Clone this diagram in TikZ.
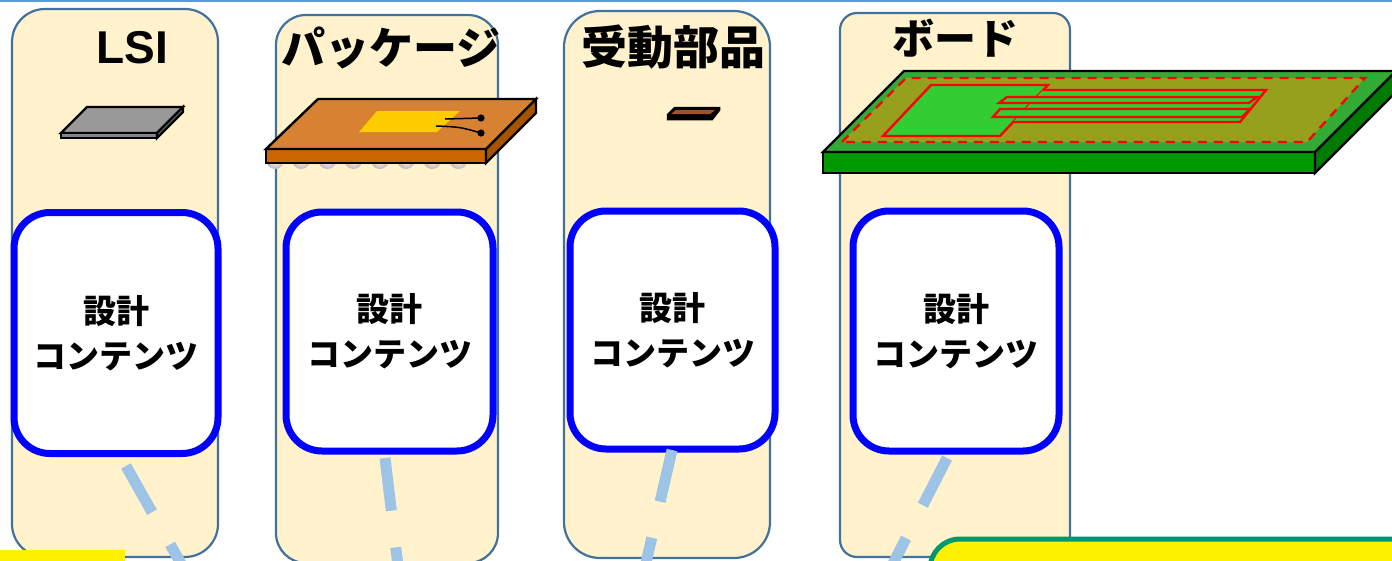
\documentclass[tikz,border=0pt]{standalone}
\usepackage{fontspec}
\setmainfont{Liberation Sans}
\newfontfamily\jp{Noto Sans CJK JP}
\definecolor{colFill}{HTML}{FFF2CC}
\definecolor{colEdge}{HTML}{41719C}
\definecolor{boxBlue}{HTML}{0000FF}
\definecolor{linkBlue}{HTML}{9DC3E6}
\definecolor{topRule}{HTML}{5B9BD5}
\definecolor{chipTop}{HTML}{999999}
\definecolor{chipFront}{HTML}{858585}
\definecolor{chipSide}{HTML}{6E6E6E}
\definecolor{pkgTop}{HTML}{D68232}
\definecolor{pkgFront}{HTML}{CC6600}
\definecolor{pkgSide}{HTML}{A65300}
\definecolor{die}{HTML}{FFCC00}
\definecolor{passive}{HTML}{A0522D}
\definecolor{boardRim}{HTML}{33AA33}
\definecolor{boardOlive}{HTML}{96A01C}
\definecolor{boardFront}{HTML}{009900}
\definecolor{boardSide}{HTML}{007A00}
\definecolor{pad}{HTML}{33CC33}
\definecolor{noteEdge}{HTML}{00966E}
\begin{document}
\begin{tikzpicture}[x=1pt,y=-1pt,
  column/.style={draw=colEdge, line width=2.2pt, fill=colFill},
  content/.style={draw=boxBlue, line width=7pt, fill=white, rounded corners=36pt,
    inner sep=0pt, align=center, font=\jp\bfseries\fontsize{33}{45}\selectfont},
  title/.style={inner sep=0pt, font=\jp\bfseries\fontsize{44}{48}\selectfont},
  dashlink/.style={draw=linkBlue, line width=11pt, dash pattern=on 53pt off 37pt},
  solid3d/.style={draw=black, line width=2.4pt, line join=miter},
  trace/.style={draw=red, line width=2.4pt, fill=pad}]
\useasboundingbox (0,0) rectangle (1392,560);
\clip (0,0) rectangle (1392,560);

% rule along the top
\draw[topRule, line width=2pt] (0,1) -- (1392,1);

% the four columns
\draw[column, rounded corners=33pt] (12,9) rectangle (218,557);
\draw[column, rounded corners=30pt] (276,15) rectangle (498,563);
\draw[column, rounded corners=36pt] (564,11) rectangle (770,558);
\draw[column, rounded corners=17pt] (840,13) rectangle (1070,557);

% column titles
\node[inner sep=0pt, font=\bfseries\fontsize{46}{50}\selectfont] (tLSI) at (132,48) {LSI};
\node[title] (tPkg) at (391,48) {パッケージ};
\node[title, font=\jp\bfseries\fontsize{46}{50}\selectfont] (tPas) at (673,47) {受動部品};
\node[title, font=\jp\bfseries\fontsize{42}{46}\selectfont] (tBrd) at (955,38) {ボード};

% LSI chip
\filldraw[solid3d, fill=chipTop] (61,133) -- (87,107) -- (183,107) -- (157,133) -- cycle;
\filldraw[solid3d, fill=chipFront] (61,133) rectangle (157,138);
\filldraw[solid3d, fill=chipSide] (157,133) -- (183,107) -- (183,112) -- (157,138) -- cycle;

% package with solder balls
\foreach \i in {0,...,7}
  \shade[inner color=white, outer color=gray!55] (275+26.2*\i,160) circle (9);
\filldraw[solid3d, fill=pkgFront] (266,149) rectangle (486,163);
\filldraw[solid3d, fill=pkgSide] (486,149) -- (536,99) -- (536,113) -- (486,163) -- cycle;
\filldraw[solid3d, fill=pkgTop] (266,149) -- (318,99) -- (536,99) -- (486,149) -- cycle;
\fill[die] (359,132) -- (377,111) -- (460,111) -- (437,132) -- cycle;
\draw[line width=1.5pt] (445,119) -- (481,118);
\draw[line width=1.5pt] (436,126) .. controls (460,127) .. (481,133);
\fill (481,118) circle (3.6);
\fill (481,133) circle (3.6);

% passive component
\filldraw[draw=black, line width=2.5pt, fill=black, line join=miter]
  (668,115) -- (675,108) -- (719,108) -- (719,110) -- (712,119) -- (668,119) -- cycle;
\fill[passive] (671,114) -- (676,110) -- (715,110) -- (710,114) -- cycle;

% board
\filldraw[solid3d, fill=boardFront] (823,152) rectangle (1315,173);
\filldraw[solid3d, fill=boardSide] (1315,152) -- (1396,71) -- (1396,92) -- (1315,173) -- cycle;
\filldraw[solid3d, fill=boardRim] (823,152) -- (904,71) -- (1396,71) -- (1315,152) -- cycle;
\fill[boardOlive] (842,142) -- (906,78) -- (1365,78) -- (1307,142) -- cycle;
\draw[red, line width=2.4pt, dash pattern=on 9pt off 7pt]
  (842,142) -- (906,78) -- (1365,78) -- (1307,142) -- cycle;
\filldraw[trace] (883,136) -- (931,85) -- (1048,85) -- (1000,136) -- cycle;
\fill[pad] (1043,90) -- (1266,90) -- (1240,122) -- (1013,122) -- cycle;
\draw[red, line width=2.4pt] (1043,90) -- (1266,90) -- (1240,122) -- (1013,122);
\filldraw[trace] (1007,97) -- (1257,97) -- (1249,103) -- (999,103) -- cycle;
\filldraw[trace] (1000,109) -- (1250,109) -- (1242,117) -- (993,117) -- cycle;

% design-content boxes
\node[content, minimum width=204pt, minimum height=241pt] (box1) at (116,333)
  {設計\\コンテンツ};
\node[content, minimum width=207pt, minimum height=239pt] (box2) at (389.5,331.5)
  {設計\\コンテンツ};
\node[content, minimum width=205pt, minimum height=238pt] (box3) at (672.5,330)
  {設計\\コンテンツ};
\node[content, minimum width=206pt, minimum height=240pt] (box4) at (956,331)
  {設計\\コンテンツ};

% dashed links leaving each box downwards
\coordinate (l1a) at (126,466);   \coordinate (l1b) at (224,640);
\coordinate (l2a) at (385,458);   \coordinate (l2b) at (409,657);
\coordinate (l3a) at (672,450);   \coordinate (l3b) at (627,645);
\coordinate (l4a) at (947,458);   \coordinate (l4b) at (856,636);
\draw[dashlink] (l1a) -- (l1b);
\draw[dashlink] (l2a) -- (l2b);
\draw[dashlink] (l3a) -- (l3b);
\draw[dashlink] (l4a) -- (l4b);

% yellow strip and note box along the bottom edge
\fill[yellow] (0,550) rectangle (125,562);
\draw[draw=noteEdge, line width=5pt, fill=yellow, rounded corners=30pt]
  (930,539) rectangle (1430,640);
\end{tikzpicture}
\end{document}
